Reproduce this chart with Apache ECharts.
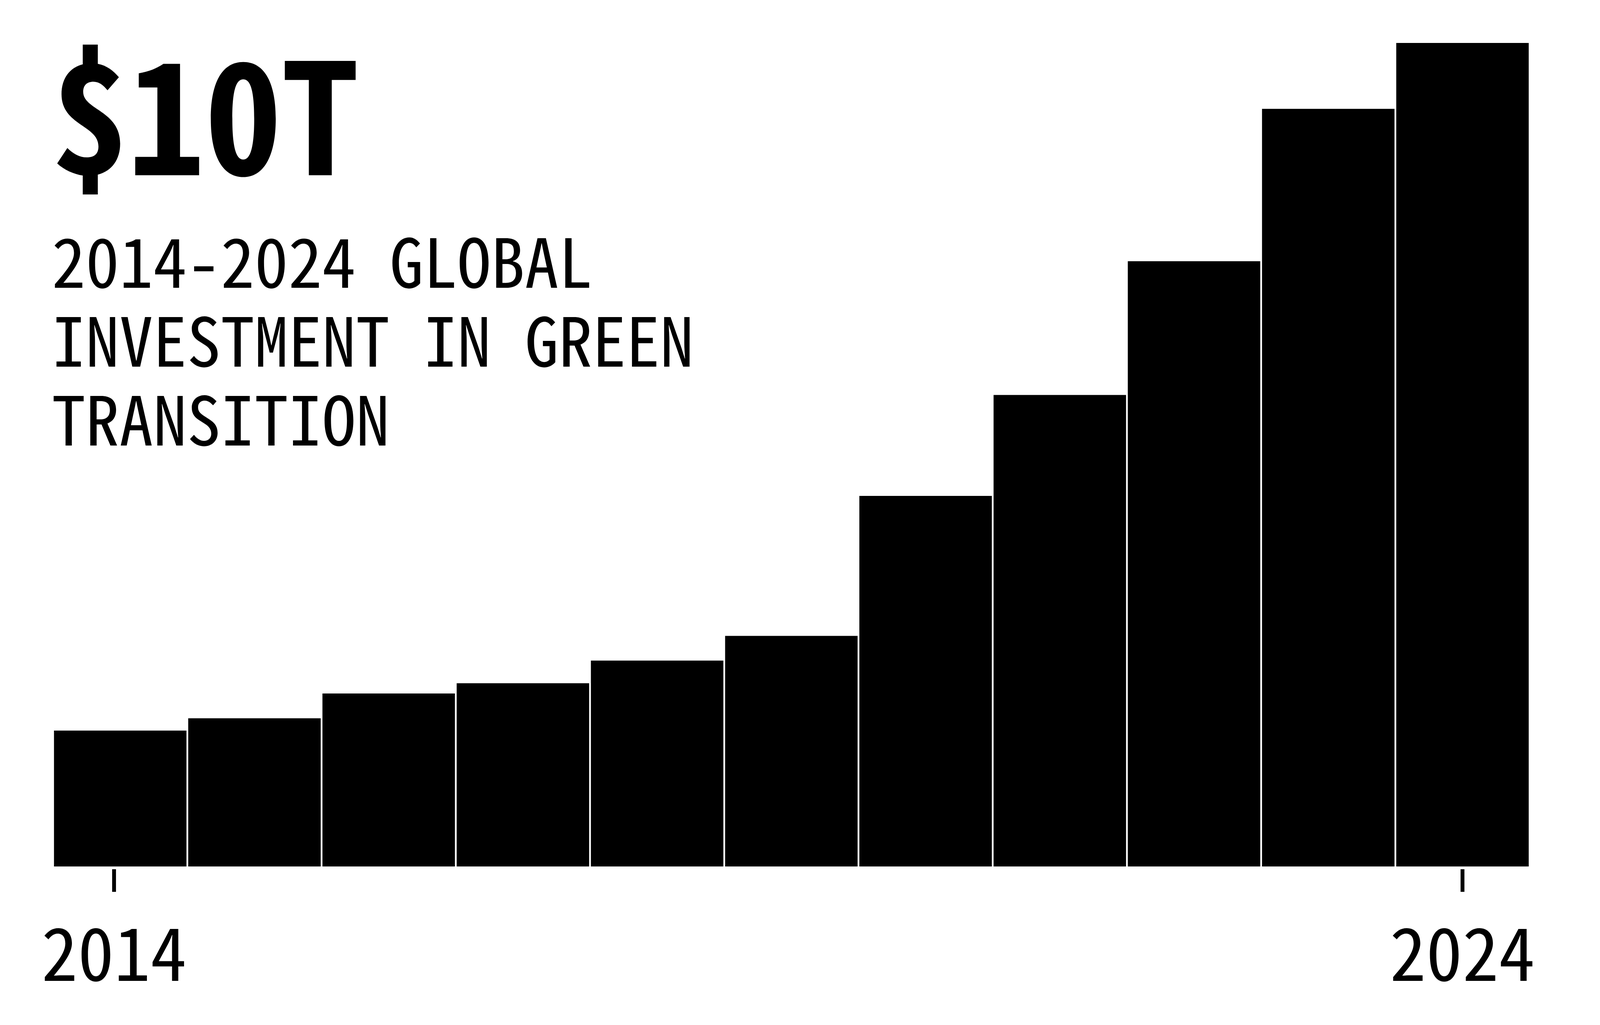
<!DOCTYPE html>
<html>
<head>
<meta charset="utf-8">
<script src="https://cdn.jsdelivr.net/npm/echarts@6/dist/echarts.min.js"></script>
<style>
html,body{margin:0;padding:0;background:#fff;overflow:hidden;}
#chart{width:100vw;height:100vh;}
</style>
</head>
<body>
<div id="chart"></div>
<script>
// Data (trillions USD)
var years = ['2014','2015','2016','2017','2018','2019','2020','2021','2022','2023','2024'];
var investment = [0.33, 0.36, 0.42, 0.445, 0.50, 0.56, 0.90, 1.145, 1.47, 1.84, 2.00];
var tickYears = [2014, 2024];
var headline = '$10T';
var subtitle = ['2014-2024 GLOBAL', 'INVESTMENT IN GREEN', 'TRANSITION'];

var W = window.innerWidth || 5000;
var H = window.innerHeight || 2625;
var sx = W / 5000, sy = H / 2625;
var FONT = '"Noto Sans Mono CJK SC"';

var chart = echarts.init(document.getElementById('chart'), null, {renderer: 'canvas', width: W, height: H});
var option = {
  backgroundColor: '#ffffff',
  animation: false,
  grid: {left: 166 * sx, right: 220 * sx, top: 110 * sy, bottom: 406 * sy},
  xAxis: [
    {type: 'category', data: years, show: false},
    {
      type: 'value',
      position: 'bottom',
      min: 2013.548,
      max: 2024.498,
      offset: 7 * sy,
      splitLine: {show: false},
      axisLine: {show: false},
      axisTick: {show: true, length: 58 * sy, lineStyle: {color: '#000', width: 12 * sx}, customValues: tickYears},
      axisLabel: {
        show: true,
        customValues: tickYears,
        margin: 122 * sy,
        color: '#000',
        fontFamily: FONT,
        fontSize: 186 * sy,
        lineHeight: 186 * sy,
        formatter: function (v) { return String(Math.round(v)); }
      }
    }
  ],
  yAxis: {type: 'value', min: 0, max: 2.0, show: false},
  series: [{
    type: 'bar',
    xAxisIndex: 0,
    data: investment,
    barCategoryGap: '1.3%',
    itemStyle: {color: '#000'}
  }],
  graphic: [
    {
      type: 'text',
      left: 181 * sx - 18,
      top: 102 * sy,
      style: {
        text: headline,
        fill: '#000',
        fontFamily: FONT,
        fontWeight: 'bold',
        fontSize: 394 * sy,
        lineHeight: 394 * sy
      }
    },
    {
      type: 'text',
      left: 169 * sx - 6,
      top: 570 * sy,
      style: {
        text: subtitle.join('\n'),
        fill: '#000',
        fontFamily: FONT,
        fontSize: 173 * sy,
        lineHeight: 202 * sy
      }
    }
  ]
};
chart.setOption(option);
</script>
</body>
</html>
